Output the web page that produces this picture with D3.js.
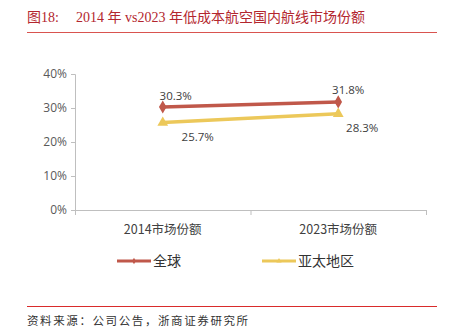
<!DOCTYPE html>
<html><head><meta charset="utf-8">
<script src="https://cdn.jsdelivr.net/npm/d3@7"></script>
<style>body{margin:0;background:#fff}svg{display:block}</style>
</head><body>
<script>
const categories = ["2014市场份额", "2023市场份额"];
const seriesNames = ["全球", "亚太地区"];
const globalValues = [30.3, 31.8];
const asiaValues = [25.7, 28.3];
const yTicks = [0, 10, 20, 30, 40];
const titleParts = ["图18:", "2014 年 vs2023 年低成本航空国内航线市场份额"];
const source = "资料来源：公司公告，浙商证券研究所";

const W = 462, H = 335;
const svg = d3.select("body").append("svg").attr("width", W).attr("height", H);
const cjk = "'Liberation Serif','Noto Sans CJK SC',serif";
const sans = "'Noto Sans CJK SC','Noto Sans',sans-serif";

svg.append("text").attr("x", 27).attr("y", 22).attr("fill", "#b3262e")
  .style("font-family", cjk).style("font-size", "14px").text(titleParts[0]);
svg.append("text").attr("x", 76).attr("y", 22).attr("fill", "#b3262e")
  .style("font-family", cjk).style("font-size", "14px").style("white-space", "pre").text(titleParts[1]);
svg.append("line").attr("x1", 27).attr("x2", 437).attr("y1", 32.5).attr("y2", 32.5)
  .attr("stroke", "#d9534f").attr("stroke-width", 1);
svg.append("line").attr("x1", 27).attr("x2", 437).attr("y1", 306.5).attr("y2", 306.5)
  .attr("stroke", "#d92b2b").attr("stroke-width", 1);
svg.append("text").attr("x", 27).attr("y", 325).attr("fill", "#333")
  .style("font-family", sans).style("font-size", "11.5px").style("letter-spacing", "1.6px").text(source);

const x = d3.scaleBand().domain(categories).range([75, 426]);
const y = d3.scaleLinear().domain([0, 40]).range([210, 74]);

const yAxis = svg.append("g").attr("transform", "translate(75,0)")
  .call(d3.axisLeft(y).tickValues(yTicks).tickSize(4).tickFormat(d => d + "%"));
yAxis.select(".domain").attr("stroke", "#bfbfbf");
yAxis.selectAll(".tick line").attr("stroke", "#bfbfbf");
yAxis.selectAll(".tick text").attr("fill", "#595959").attr("x", -8)
  .style("font-family", "'Open Sans',sans-serif").style("font-size", "12px");

const xAxis = svg.append("g").attr("transform", "translate(0,210)")
  .call(d3.axisBottom(x).tickSize(4).tickSizeOuter(0).tickFormat(""));
xAxis.selectAll(".tick").remove();
xAxis.select(".domain").attr("stroke", "#bfbfbf").attr("d", "M75.5,0V0.5H426.5V0");
const bounds = [x.range()[0]].concat(categories.map(c => x(c) + x.bandwidth()));
xAxis.selectAll("line.b").data(bounds).enter().append("line")
  .attr("x1", d => d + 0.5).attr("x2", d => d + 0.5).attr("y1", 0).attr("y2", 5)
  .attr("stroke", "#bfbfbf");
svg.selectAll("text.cat").data(categories).enter().append("text")
  .attr("x", d => x(d) + x.bandwidth() / 2).attr("y", 234).attr("text-anchor", "middle")
  .attr("fill", "#404040").style("font-family", sans).style("font-size", "12.5px").text(d => d);

const cx = c => x(c) + x.bandwidth() / 2;
const series = [
  {name: seriesNames[0], values: globalValues, color: "#c0584a", sym: d3.symbolDiamond},
  {name: seriesNames[1], values: asiaValues, color: "#ecc85a", sym: d3.symbolTriangle}
];
const line = d3.line().x((d, i) => cx(categories[i])).y(d => y(d));
series.forEach(s => {
  svg.append("path").datum(s.values).attr("d", line).attr("fill", "none")
    .attr("stroke", s.color).attr("stroke-width", 3.5);
  svg.selectAll(null).data(s.values).enter().append("path")
    .attr("d", d3.symbol().type(s.sym).size(50))
    .attr("transform", (d, i) => `translate(${cx(categories[i])},${y(d)})`)
    .attr("fill", s.color);
});

const lab = [
  {v: globalValues[0], c: 0, dx: 13, dy: -11},
  {v: globalValues[1], c: 1, dx: 10, dy: -12},
  {v: asiaValues[0], c: 0, dx: 35, dy: 14},
  {v: asiaValues[1], c: 1, dx: 24, dy: 14}
];
svg.selectAll("text.lab").data(lab).enter().append("text")
  .attr("x", d => cx(categories[d.c]) + d.dx).attr("y", d => y(d.v) + d.dy + 4)
  .attr("text-anchor", "middle").attr("fill", "#404040")
  .style("font-family", "'Open Sans',sans-serif").style("font-size", "11.5px")
  .text(d => d.v.toFixed(1) + "%");

const legX = [117, 262];
series.forEach((s, i) => {
  const g = svg.append("g").attr("transform", `translate(${legX[i]},261)`);
  g.append("line").attr("x1", 0).attr("x2", 34).attr("stroke", s.color).attr("stroke-width", 3);
  g.append("path").attr("d", d3.symbol().type(s.sym).size(12)).attr("transform", "translate(17,0)").attr("fill", s.color);
  g.append("text").attr("x", 36).attr("y", 5).attr("fill", "#333")
    .style("font-family", sans).style("font-size", "14px").text(s.name);
});
</script>
</body></html>
